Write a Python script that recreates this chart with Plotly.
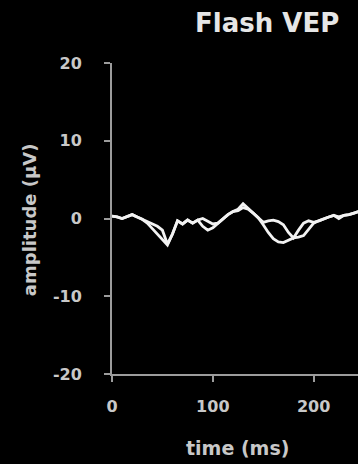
import plotly.graph_objects as go

# Flash VEP: two overlaid recordings, amplitude in µV against time in ms
time_ms = [0, 5, 10, 15, 20, 25, 30, 35, 40, 45, 50, 55, 60, 65, 70, 75, 80, 85,
           90, 95, 100, 105, 110, 115, 120, 125, 130, 135, 140, 145, 150, 155,
           160, 165, 170, 175, 180, 185, 190, 195, 200, 205, 210, 215, 220, 225,
           230, 235, 240, 245]

trace_a = [0.3, 0.2, 0.0, 0.3, 0.5, 0.2, -0.1, -0.3, -0.6, -1.0, -1.5, -3.3,
           -2.0, -0.3, -0.7, -0.2, -0.6, -0.2, 0.0, -0.3, -0.7, -0.6, 0.0, 0.5,
           0.9, 1.2, 1.9, 1.3, 0.7, 0.1, -0.5, -0.3, -0.2, -0.4, -0.8, -1.8,
           -2.5, -1.5, -0.6, -0.3, -0.5, -0.3, 0.0, 0.2, 0.4, 0.2, 0.4, 0.5,
           0.7, 0.9]

trace_b = [0.3, 0.2, 0.0, 0.3, 0.5, 0.2, -0.1, -0.6, -1.3, -2.0, -2.8, -3.4,
           -2.0, -0.3, -0.7, -0.2, -0.6, -0.2, -1.0, -1.5, -1.2, -0.6, 0.0, 0.5,
           0.9, 1.0, 1.4, 1.2, 0.7, 0.1, -0.8, -1.8, -2.6, -3.0, -3.1, -2.8,
           -2.5, -2.4, -2.2, -1.4, -0.6, -0.3, 0.0, 0.2, 0.4, 0.0, 0.4, 0.5,
           0.7, 0.9]

y_ticks = [-20, -10, 0, 10, 20]
y_tick_text = ["-20", "-10", "0", "10", "20"]
x_ticks = [0, 100, 200]
x_tick_text = ["0", "100", "200"]

LINE = "#f2f2f2"
AXIS = "#9c9c9c"
TEXT = "#c8c8c8"
FONT = "DejaVu Sans"

fig = go.Figure()
for series in (trace_a, trace_b):
    fig.add_trace(go.Scatter(x=time_ms, y=series, mode="lines",
                             line=dict(color=LINE, width=2.8),
                             hoverinfo="skip", showlegend=False))

axis_style = dict(showgrid=False, zeroline=False,
                  showline=True, linecolor=AXIS, linewidth=2,
                  ticks="outside", ticklen=6, tickwidth=2, tickcolor=AXIS,
                  tickfont=dict(family=FONT, size=16, color=TEXT, weight="bold"))

fig.update_layout(
    width=358, height=464,
    paper_bgcolor="black", plot_bgcolor="black",
    margin=dict(l=112, r=0, t=63, b=90),
    showlegend=False,
    xaxis=dict(range=[0, 244], tickvals=x_ticks, ticktext=x_tick_text,
               ticklabelstandoff=11, **axis_style),
    yaxis=dict(range=[-20, 20], tickvals=y_ticks, ticktext=y_tick_text,
               ticklabelstandoff=19, **axis_style),
    annotations=[
        dict(text="<b>Flash VEP</b>", xref="paper", yref="paper",
             x=0.63, y=1.13, xanchor="center", yanchor="middle",
             showarrow=False, font=dict(family=FONT, size=26, color="#e6e6e6")),
        dict(text="<b>amplitude (µV)</b>", xref="paper", yref="paper",
             x=-0.337, y=0.495, textangle=-90, xanchor="center", yanchor="middle",
             showarrow=False, font=dict(family=FONT, size=18, color=TEXT)),
        dict(text="<b>time (ms)</b>", xref="paper", yref="paper",
             x=0.512, y=-0.238, xanchor="center", yanchor="middle",
             showarrow=False, font=dict(family=FONT, size=19, color=TEXT)),
    ],
)

fig.write_html("out.html")
